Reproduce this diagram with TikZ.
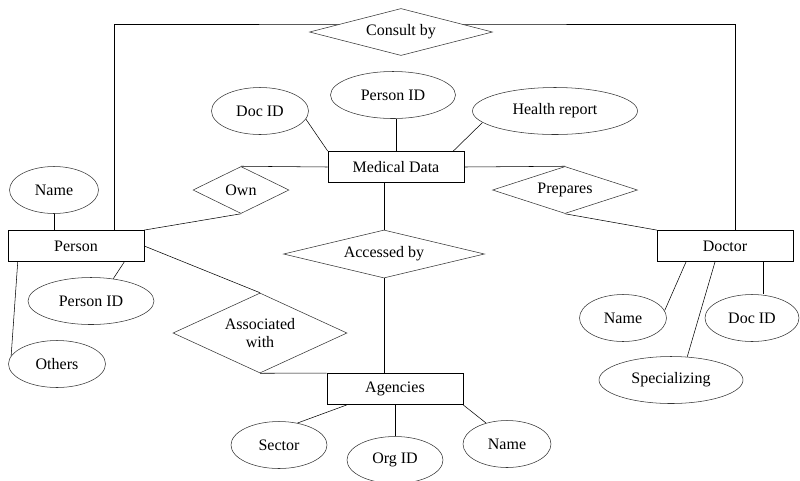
\documentclass[tikz,border=0pt]{standalone}
\usepackage{fontspec}
\setmainfont{Liberation Serif}
\usetikzlibrary{
    shapes.geometric,
    backgrounds,
}

\begin{document}
\begin{tikzpicture}[x=0.75pt,y=-0.75pt,
    every node/.style={font=\fontsize{12}{14}\selectfont},
    entity/.style={draw=black,rectangle,minimum width=102pt,minimum height=23.5pt,inner sep=0pt,fill=white},
    attr/.style={draw=black!80,ellipse,minimum height=35.25pt,inner sep=0pt,fill=white},
    rel/.style={draw=black!80,diamond,inner sep=0pt,align=center,fill=white},
    link/.style={draw=black!80,line width=0.6pt},
]
    % \draw[help lines] grid (800,480);
    \useasboundingbox (0,0) rectangle (800,480);

    % Entities
    \node[entity] (medical) at (396,167) {Medical Data};
    \node[entity] (person) at (76,246) {Person};
    \node[entity] (doctor) at (725,246) {Doctor};
    \node[entity] (agencies) at (395,389) {Agencies};

    % Attributes
    \foreach \n / \x / \y / \w / \t in {
        mdocid/260/111/97/{Doc ID},
        mpid/393/95/125/{Person ID},
        mhealth/555/111/165/{Health report},
        pname/54/190/89/{Name},
        ppid/91/301/126/{Person ID},
        pothers/57/364/97/{Others},
        asector/279/445/96/{Sector},
        aorgid/395/460/96/{Org ID},
        aname/507/444/88/{Name},
        dname/623/318/87/{Name},
        ddocid/752/318/94/{Doc ID},
        dspec/671/380/144/{Specializing}} {

        \node[attr,minimum width=\w*0.75pt] (\n) at (\x,\y) {\t};

    }

    % Relationships
    \foreach \n / \x / \y / \w / \h / \t in {
        consult/401/32/183/47/{Consult by},
        own/241/190/96/47/{Own},
        prepares/565/190/145/47/{Prepares},
        accessed/384/254/201/48/{Accessed by},
        assoc/260/333/174/80/{Associated\\with}} {

        \pgfmathsetmacro{\asp}{\w/\h}
        \node[rel,shape aspect=\asp,minimum width=\w*0.75pt,minimum height=\h*0.75pt]
            (\n) at (\x,\y) {\t};

    }

    \begin{scope}[on background layer,link]
        % Medical Data
        \draw (medical.north west) -- (mdocid.-10);
        \draw (medical.north) -- (medical.north |- mpid.south);
        \draw ([xshift=-8.25pt]medical.north east) -- (mhealth.189);
        \draw (medical.west) -- (own.north);
        \draw (own.south) -- (person.north east);
        \draw (medical.east) -- (prepares.north);
        \draw (prepares.south) -- (doctor.north west);
        \draw (accessed.north) -- (accessed.north |- medical.south);
        \draw (accessed.south) -- (accessed.south |- agencies.north);

        % Person
        \draw (pname.south) -- (pname.south |- person.north);
        \draw ([xshift=-15pt]person.south east) -- (ppid.45);
        \draw ([xshift=7.5pt]person.south west) -- (pothers.170);
        \draw (person.east) -- (assoc.north);
        \draw (assoc.south) -- (agencies.north west);

        % Agencies
        \draw ([xshift=15pt]agencies.south west) -- (asector.50);
        \draw (agencies.south) -- (aorgid.north);
        \draw (agencies.south east) -- (aname.135);

        % Doctor
        \draw ([xshift=-29.25pt]doctor.south) -- (dname.10);
        \draw ([xshift=28.5pt]doctor.south) -- ([xshift=8.25pt]ddocid.north);
        \draw ([xshift=-7.5pt]doctor.south) -- (dspec.55);

        % Consult loop
        \draw ([xshift=28.5pt]person.north) |- ([yshift=6pt]consult.center)
            -| ([xshift=7.9pt]doctor.north);
    \end{scope}

\end{tikzpicture}
\end{document}
